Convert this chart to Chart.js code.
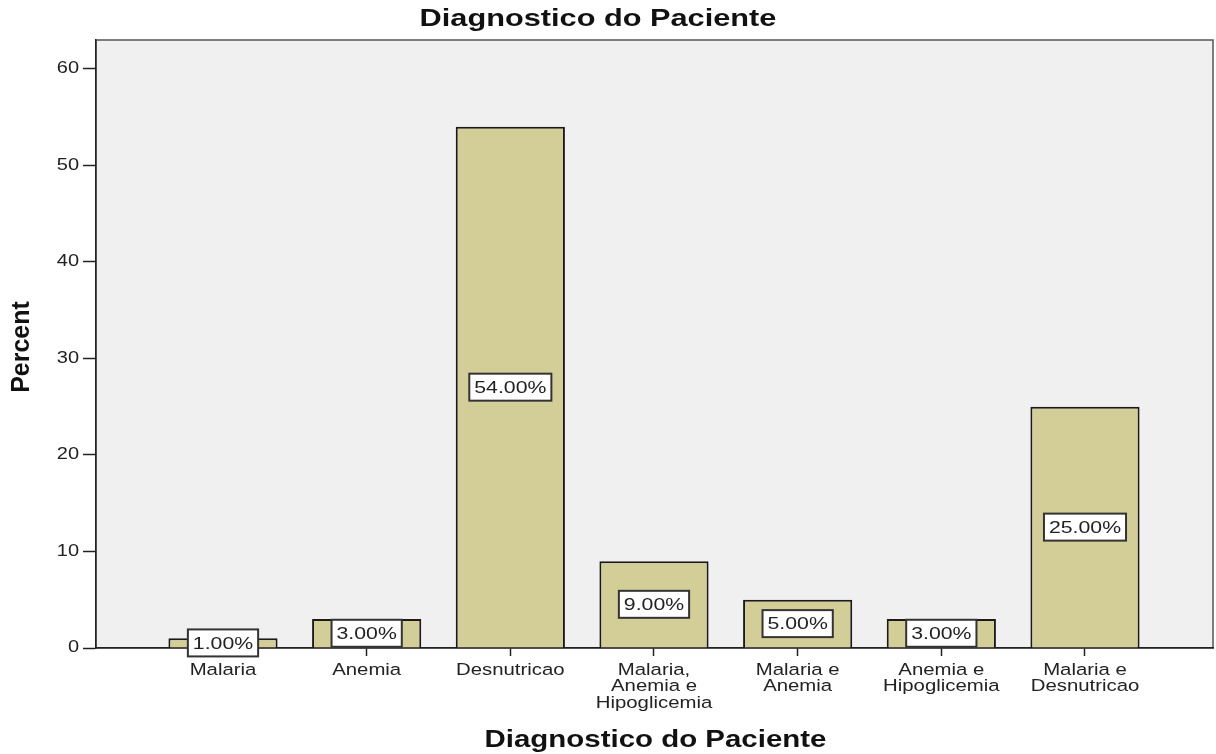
<!DOCTYPE html>
<html>
<head>
<meta charset="utf-8">
<script src="https://cdn.jsdelivr.net/npm/chart.js@4.4.1/dist/chart.umd.min.js"></script>
<style>
  html, body { margin: 0; padding: 0; background: #fff; }
  #wrap { width: 1216px; height: 754px; }
</style>
</head>
<body>
<div id="wrap"><canvas id="diagChart"></canvas></div>
<script>
const categories = [
  'Malaria',
  'Anemia',
  'Desnutricao',
  ['Malaria,', 'Anemia e', 'Hipoglicemia'],
  ['Malaria e', 'Anemia'],
  ['Anemia e', 'Hipoglicemia'],
  ['Malaria e', 'Desnutricao']
];
const percents = [1, 3, 54, 9, 5, 3, 25];
const yTicks = [0, 10, 20, 30, 40, 50, 60];
const titleText = 'Diagnostico do Paciente';
const xTitle = 'Diagnostico do Paciente';
const yTitle = 'Percent';

const font = '"Liberation Sans", Arial, sans-serif';
const ink = '#222';

// the original's lettering is wide, so horizontal text is stretched a bit
let textStretch = 1.25;
const canvas = document.getElementById('diagChart');
const c2d = canvas.getContext('2d');
const plainFill = c2d.fillText;
c2d.fillText = function (t, x, y) {
  this.save();
  this.translate(x, y);
  this.scale(textStretch, 1);
  plainFill.call(this, t, 0, 0);
  this.restore();
};

const frame = {
  id: 'frame',
  beforeDraw(chart) {
    const { ctx, chartArea: a } = chart;
    textStretch = 1.25;
    ctx.save();
    ctx.fillStyle = '#f0f0f0';
    ctx.fillRect(a.left, a.top, a.right - a.left, a.bottom - a.top);
    ctx.strokeStyle = '#555';
    ctx.lineWidth = 1.5;
    ctx.strokeRect(a.left, a.top, a.right - a.left, a.bottom - a.top);
    ctx.restore();
  },
  afterDatasetsDraw(chart) {
    const { ctx } = chart;
    const meta = chart.getDatasetMeta(0);
    ctx.save();
    ctx.font = '17px ' + font;
    ctx.textAlign = 'center';
    ctx.textBaseline = 'middle';
    meta.data.forEach((bar, i) => {
      const txt = percents[i].toFixed(2) + '%';
      const cy = (bar.y + bar.base) / 2;
      const w = ctx.measureText(txt).width * textStretch + 10;
      const h = 27;
      ctx.fillStyle = '#fff';
      ctx.fillRect(bar.x - w / 2, cy - h / 2, w, h);
      ctx.strokeStyle = '#333';
      ctx.lineWidth = 2;
      ctx.strokeRect(bar.x - w / 2, cy - h / 2, w, h);
      ctx.fillStyle = ink;
      ctx.fillText(txt, bar.x, cy + 1);
    });
    ctx.restore();
  },
  afterDraw(chart) {
    const { ctx, chartArea: a } = chart;
    ctx.save();
    ctx.fillStyle = '#111';
    ctx.textAlign = 'center';
    ctx.textBaseline = 'middle';
    textStretch = 1.28;
    ctx.font = 'bold 24px ' + font;
    ctx.fillText(titleText, 598, 19);
    ctx.font = 'bold 23px ' + font;
    ctx.fillText(xTitle, (a.left + a.right) / 2 + 1, 741);
    textStretch = 1;
    ctx.translate(22, (a.top + a.bottom) / 2 + 3);
    ctx.rotate(-Math.PI / 2);
    ctx.font = 'bold 25px ' + font;
    ctx.fillText(yTitle, 0, 0);
    ctx.restore();
    textStretch = 1.25;
  }
};

new Chart(canvas, {
  type: 'bar',
  data: {
    datasets: [{
      data: percents.map((v, i) => ({ x: i, y: v })),
      backgroundColor: '#d3ce98',
      borderColor: '#1a1a1a',
      borderWidth: 2,
      categoryPercentage: 1,
      barPercentage: 0.76
    }]
  },
  options: {
    responsive: true,
    maintainAspectRatio: false,
    animation: false,
    layout: { padding: { top: 40, right: 3, left: 0, bottom: 0 } },
    plugins: {
      legend: { display: false },
      tooltip: { enabled: false },
      title: { display: false }
    },
    scales: {
      x: {
        type: 'linear',
        offset: false,
        min: -0.884,
        max: 6.891,
        afterBuildTicks: s => { s.ticks = categories.map((c, i) => ({ value: i })); },
        afterFit: s => { s.height = 106; },
        grid: { offset: false, drawOnChartArea: false, drawTicks: true, tickLength: 8, tickColor: ink, tickWidth: 1.5 },
        border: { display: true, color: ink, width: 1.5 },
        ticks: {
          autoSkip: false,
          maxRotation: 0,
          padding: 6,
          color: ink,
          font: { family: font, size: 16.3, lineHeight: 1.02 },
          callback: v => categories[v]
        }
      },
      y: {
        min: 0,
        max: 63,
        afterBuildTicks: s => { s.ticks = yTicks.map(v => ({ value: v })); },
        afterFit: s => { s.width = 96; },
        grid: { drawOnChartArea: false, drawTicks: true, tickLength: 13, tickColor: ink, tickWidth: 1.5 },
        border: { display: true, color: ink, width: 1.5 },
        ticks: {
          padding: 4,
          color: ink,
          font: { family: font, size: 16 }
        }
      }
    }
  },
  plugins: [frame]
});
</script>
</body>
</html>
